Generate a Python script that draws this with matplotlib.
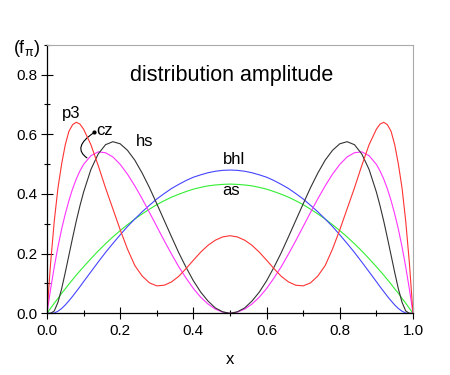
import matplotlib
matplotlib.use('Agg')
import matplotlib.pyplot as plt
from matplotlib.path import Path
from matplotlib.patches import PathPatch
from matplotlib.ticker import MultipleLocator

plt.rcParams['font.family'] = ['Liberation Sans', 'DejaVu Sans']
plt.rcParams['mathtext.fontset'] = 'custom'
plt.rcParams['mathtext.rm'] = 'Liberation Sans'
plt.rcParams['mathtext.it'] = 'Liberation Sans'

# momentum fraction x
x = [0.00, 0.01, 0.02, 0.03, 0.04, 0.05, 0.06, 0.07, 0.08, 0.09, 0.10,
     0.12, 0.14, 0.16, 0.18, 0.20, 0.22, 0.24, 0.26, 0.28, 0.30,
     0.32, 0.34, 0.36, 0.38, 0.40, 0.42, 0.44, 0.46, 0.48, 0.50,
     0.52, 0.54, 0.56, 0.58, 0.60, 0.62, 0.64, 0.66, 0.68, 0.70,
     0.72, 0.74, 0.76, 0.78, 0.80, 0.82, 0.84, 0.86, 0.88, 0.90,
     0.91, 0.92, 0.93, 0.94, 0.95, 0.96, 0.97, 0.98, 0.99, 1.00]

# curves
as_ = [0, .017, .034, .050, .067, .082, .098, .113, .128, .142, .156,
       .183, .209, .233, .256, .277, .297, .316, .333, .349, .364,
       .377, .389, .399, .408, .416, .422, .427, .430, .432, .433,
       .432, .430, .427, .422, .416, .408, .399, .389, .377, .364,
       .349, .333, .316, .297, .277, .256, .233, .209, .183, .156,
       .142, .128, .113, .098, .082, .067, .050, .034, .017, 0]

cz = [0, .082, .156, .223, .282, .333, .378, .417, .450, .477, .499,
      .528, .541, .538, .524, .499, .466, .427, .384, .338, .291,
      .244, .199, .156, .118, .083, .054, .031, .014, .004, 0,
      .004, .014, .031, .054, .083, .118, .156, .199, .244, .291,
      .338, .384, .427, .466, .499, .524, .538, .541, .528, .499,
      .477, .450, .417, .378, .333, .282, .223, .156, .082, 0]

hs = [0, .000, .008, .037, .082, .137, .195, .253, .309, .360, .406,
      .482, .534, .565, .575, .568, .546, .513, .470, .421, .367,
      .312, .257, .203, .154, .109, .071, .041, .018, .005, 0,
      .005, .018, .041, .071, .109, .154, .203, .257, .312, .367,
      .421, .470, .513, .546, .568, .575, .565, .534, .482, .406,
      .360, .309, .253, .195, .137, .082, .037, .008, .000, 0]

bhl = [0, .000, .001, .007, .016, .028, .042, .057, .073, .089, .106,
       .139, .172, .204, .234, .263, .291, .316, .340, .362, .383,
       .401, .418, .432, .445, .456, .464, .471, .476, .479, .480,
       .479, .476, .471, .464, .456, .445, .432, .418, .401, .383,
       .362, .340, .316, .291, .263, .234, .204, .172, .139, .106,
       .089, .073, .057, .042, .028, .016, .007, .001, .000, 0]

p3 = [0, .17, .31, .42, .50, .565, .61, .632, .64, .634, .617,
      .565, .495, .42, .35, .28, .215, .16, .125, .102, .092,
      .094, .105, .124, .15, .178, .205, .228, .245, .256, .26,
      .256, .245, .228, .205, .178, .15, .124, .105, .094, .092,
      .102, .125, .16, .215, .28, .35, .42, .495, .565, .617,
      .634, .64, .632, .61, .565, .50, .42, .31, .17, 0]

fig = plt.figure(figsize=(4.5, 3.75), dpi=100)
ax = fig.add_axes([0.1044, 0.1645, 0.8134, 0.7163])

lw = 0.8
ax.plot(x, as_, color='#33ee33', lw=lw)
ax.plot(x, bhl, color='#4444ff', lw=lw)
ax.plot(x, cz, color='#ff33ff', lw=lw)
ax.plot(x, hs, color='#333333', lw=lw)
ax.plot(x, p3, color='#ff3333', lw=lw)

ax.set_xlim(0, 1)
ax.set_ylim(0, 0.9)
ax.xaxis.set_major_locator(MultipleLocator(0.2))
ax.xaxis.set_minor_locator(MultipleLocator(0.1))
ax.yaxis.set_major_locator(MultipleLocator(0.2))
ax.yaxis.set_minor_locator(MultipleLocator(0.1))
ax.set_xticks([0, 0.2, 0.4, 0.6, 0.8, 1.0])
ax.set_yticks([0, 0.2, 0.4, 0.6, 0.8])
ax.set_xticklabels(['0.0', '0.2', '0.4', '0.6', '0.8', '1.0'])
ax.set_yticklabels(['0.0', '0.2', '0.4', '0.6', '0.8'])
ax.tick_params(which='major', direction='inout', length=8, width=0.8,
               labelsize=11, top=False, right=False)
ax.tick_params(which='minor', direction='inout', length=5, width=0.8,
               top=False, right=False)
ax.tick_params(axis='x', pad=4)
ax.tick_params(axis='y', pad=3)

for s in ['top', 'right']:
    ax.spines[s].set_color('#aaaaaa')
    ax.spines[s].set_linewidth(0.8)
for s in ['left', 'bottom']:
    ax.spines[s].set_linewidth(0.9)

ax.set_xlabel('x', fontsize=12, labelpad=10)

ax.text(0.504, 0.797, 'distribution amplitude', fontsize=15.5,
        ha='center', va='center')
ax.text(0.066, 0.67, 'p3', fontsize=12, ha='center', va='center')
ax.text(0.158, 0.613, 'cz', fontsize=12, ha='center', va='center')
ax.text(0.268, 0.575, 'hs', fontsize=12, ha='center', va='center')
ax.text(0.51, 0.515, 'bhl', fontsize=12, ha='center', va='center')
ax.text(0.504, 0.412, 'as', fontsize=12, ha='center', va='center')

# leader line from the cz label
verts = [(0.129, 0.606), (0.067, 0.556), (0.110, 0.520)]
leader = Path(verts, [Path.MOVETO, Path.CURVE3, Path.CURVE3])
ax.add_patch(PathPatch(leader, fc='none', ec='black', lw=0.8))
ax.plot([0.129], [0.606], 'o', color='black', ms=2)

fig.text(0.06, 0.87, r'$(\mathrm{f}_{\pi})$', fontsize=13,
         ha='center', va='center')

plt.savefig('out.png', dpi=100)
